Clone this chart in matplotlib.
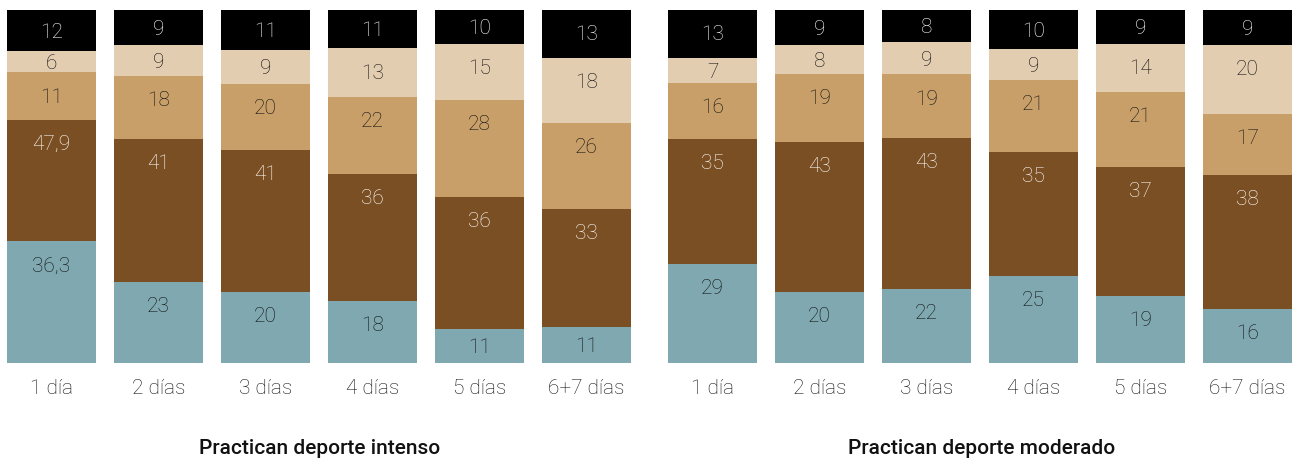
import matplotlib
matplotlib.use("Agg")
from matplotlib import pyplot as plt
from matplotlib import transforms
import numpy as np

plt.rcParams['font.family'] = ['Roboto', 'DejaVu Sans']

# categories (same for both panels)
dias = ['1 día', '2 días', '3 días', '4 días', '5 días', '6+7 días']

# labelled values, bottom (teal) to top (black)
intenso = [
    [36.3, 47.9, 11, 6, 12],
    [23, 41, 18, 9, 9],
    [20, 41, 20, 9, 11],
    [18, 36, 22, 13, 11],
    [11, 36, 28, 15, 10],
    [11, 33, 26, 18, 13],
]
moderado = [
    [29, 35, 16, 7, 13],
    [20, 43, 19, 8, 9],
    [22, 43, 19, 9, 8],
    [25, 35, 21, 9, 10],
    [19, 37, 21, 14, 9],
    [16, 38, 17, 20, 9],
]
# segment heights as drawn (% of bar)
alto_intenso = [
    [34.4, 34.6, 13.4, 6.0, 11.7],
    [22.9, 40.7, 17.8, 8.8, 9.9],
    [20.1, 40.6, 18.8, 9.7, 11.3],
    [17.5, 36.1, 21.9, 13.9, 10.9],
    [9.6, 37.5, 27.6, 15.9, 9.7],
    [10.1, 33.5, 24.4, 18.5, 13.7],
]
alto_moderado = [
    [28.0, 35.5, 15.9, 7.1, 13.6],
    [20.1, 42.6, 19.3, 8.2, 9.9],
    [20.9, 42.9, 18.2, 9.1, 9.2],
    [24.6, 35.2, 20.5, 8.8, 11.0],
    [18.9, 36.6, 21.3, 13.6, 9.6],
    [15.3, 38.1, 17.3, 19.6, 9.9],
]

titulos = ['Practican deporte intenso', 'Practican deporte moderado']

colores = ['#7fa8b0', '#7b4f24', '#c89f69', '#e3cdb1', '#000000']
color_txt = ['#111111', '#ffffff', '#111111', '#111111', '#ffffff']

W, H = 1293, 459
fig = plt.figure(figsize=(W / 100, H / 100), dpi=100)

paso = 107.0
ancho = 89 / paso
bot = (H - 362.5) / H
alt = 352.5 / H

def panel(x0, x1, centro0, etiquetas, alturas):
    ax = fig.add_axes([x0 / W, bot, (x1 - x0) / W, alt])
    ax.set_xlim(-(centro0 - x0) / paso, (x1 - centro0) / paso)
    ax.set_ylim(0, 100)
    x = np.arange(len(dias))
    bajar = transforms.offset_copy(ax.transData, fig=fig, y=-1.8, units='dots')
    for i, vals in enumerate(etiquetas):
        h = np.array(alturas[i], dtype=float)
        h = h / h.sum() * 100
        base = 0.0
        for k in range(len(vals)):
            ax.bar(x[i], h[k], bottom=base, width=ancho, color=colores[k],
                   linewidth=0)
            tope = base + h[k]
            y = tope - min(h[k] / 2, 6.5)
            txt = ('%g' % vals[k]).replace('.', ',')
            ax.text(x[i], y, txt, ha='center', va='center', fontsize=15,
                    fontweight='light', color=color_txt[k], transform=bajar)
            base = tope
    ax.set_xticks(x)
    ax.set_xticklabels(dias, fontsize=15, fontweight='light', color='#111111')
    ax.tick_params(axis='x', length=0, pad=12)
    ax.set_yticks([])
    for s in ax.spines.values():
        s.set_visible(False)
    return ax

panel(0, 645, 51.5, intenso, alto_intenso)
panel(650, 1293, 712.5, moderado, alto_moderado)

fig.text(319.5 / W, (H - 448) / H, titulos[0], ha='center', va='center',
         fontsize=15, fontweight='medium', color='#111111')
fig.text(982 / W, (H - 448) / H, titulos[1], ha='center', va='center',
         fontsize=15, fontweight='medium', color='#111111')

fig.savefig('out.png', dpi=100)
